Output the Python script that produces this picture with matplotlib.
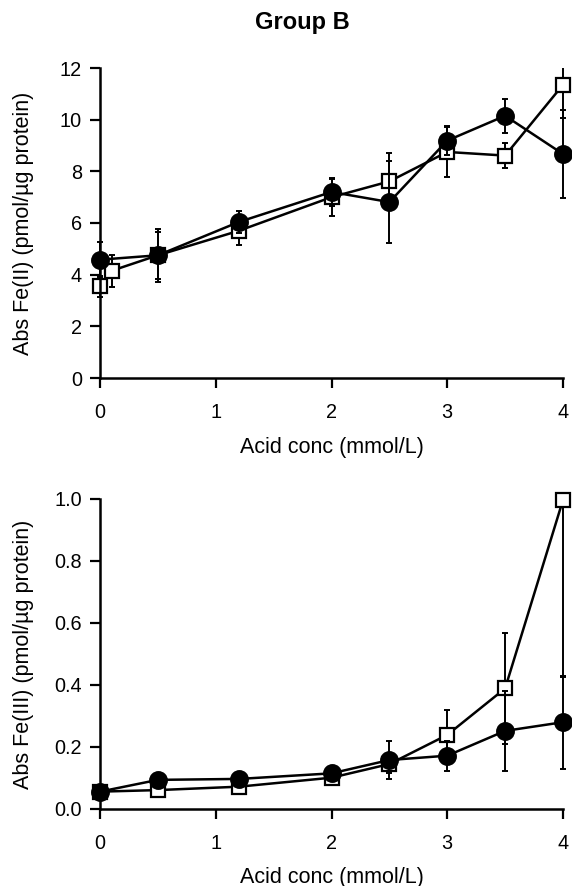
import matplotlib
matplotlib.use("Agg")
import matplotlib.pyplot as plt
from matplotlib.transforms import Bbox, TransformedBbox

plt.rcParams['font.family'] = ['Liberation Sans', 'DejaVu Sans']

# ---- Data: Fe(II) (top panel) ----
fe2_circ_x = [0, 0.5, 1.2, 2, 2.5, 3, 3.5, 4]
fe2_circ_y = [4.58, 4.75, 6.04, 7.20, 6.81, 9.19, 10.15, 8.67]
fe2_circ_err = [0.67, 1.03, 0.44, 0.55, 1.58, 0.55, 0.65, 1.70]

fe2_sq_x = [0, 0.1, 0.5, 1.2, 2, 2.5, 3, 3.5, 4]
fe2_sq_y = [3.55, 4.15, 4.75, 5.70, 7.00, 7.61, 8.75, 8.61, 11.35]
fe2_sq_err = [0.40, 0.62, 0.90, 0.54, 0.72, 1.11, 0.98, 0.48, 1.27]

# ---- Data: Fe(III) (bottom panel) ----
fe3_circ_x = [0, 0.5, 1.2, 2, 2.5, 3, 3.5, 4]
fe3_circ_y = [0.056, 0.094, 0.097, 0.115, 0.158, 0.172, 0.252, 0.280]
fe3_circ_err = [0.005, 0.006, 0.010, 0.008, 0.060, 0.048, 0.130, 0.150]

fe3_sq_x = [0, 0.5, 1.2, 2, 2.5, 3, 3.5, 4]
fe3_sq_y = [0.056, 0.061, 0.072, 0.101, 0.145, 0.239, 0.389, 0.997]
fe3_sq_err = [0.005, 0.005, 0.008, 0.008, 0.030, 0.080, 0.180, 0.570]

x_ticks = [0, 1, 2, 3, 4]
top_yticks = [0, 2, 4, 6, 8, 10, 12]
bot_yticks = [0.0, 0.2, 0.4, 0.6, 0.8, 1.0]
bot_yticklabels = ["0.0", "0.2", "0.4", "0.6", "0.8", "1.0"]

title = "Group B"
xlabel = "Acid conc (mmol/L)"
top_ylabel = "Abs Fe(II) (pmol/\u00b5g protein)"
bot_ylabel = "Abs Fe(III) (pmol/\u00b5g protein)"

W, H = 572, 886
FS = 14.3
LFS = 15.5
fig = plt.figure(figsize=(W / 100, H / 100), dpi=100)


def px_axes(left, top, right, bottom):
    return fig.add_axes([left / W, 1 - bottom / H, (right - left) / W, (bottom - top) / H])


ax1 = px_axes(100, 68, 563, 378)
ax2 = px_axes(100, 499, 563, 809)


def draw(ax, sx, sy, se, cx, cy, ce):
    clipbox = TransformedBbox(Bbox([[-0.05, 0.0], [1.05, 1.0]]), ax.transAxes)
    for x, y, e, marker, ms, mfc, z in [
        (sx, sy, se, 's', 10, 'white', 2),
        (cx, cy, ce, 'o', 12, 'black', 3),
    ]:
        cont = ax.errorbar(x, y, yerr=e, fmt='none', ecolor='black',
                           elinewidth=1.4, capsize=2.2, capthick=1.4, zorder=z)
        for art in list(cont.lines[1]) + list(cont.lines[2]):
            art.set_clip_box(clipbox)
        ax.plot(x, y, color='black', lw=1.8, marker=marker, ms=ms,
                mfc=mfc, mec='black', mew=1.6, zorder=z + 0.5, clip_on=False)


draw(ax1, fe2_sq_x, fe2_sq_y, fe2_sq_err, fe2_circ_x, fe2_circ_y, fe2_circ_err)
draw(ax2, fe3_sq_x, fe3_sq_y, fe3_sq_err, fe3_circ_x, fe3_circ_y, fe3_circ_err)

for ax in (ax1, ax2):
    ax.set_xlim(0, 4)
    ax.set_xticks(x_ticks)
    ax.set_xticklabels([str(t) for t in x_ticks])
    for s in ('top', 'right'):
        ax.spines[s].set_visible(False)
    for s in ('left', 'bottom'):
        ax.spines[s].set_linewidth(1.8)
    ax.tick_params(axis='both', direction='out', length=7, width=1.6,
                   labelsize=FS, colors='black')
    ax.tick_params(axis='x', pad=11)
    ax.tick_params(axis='y', pad=6)

ax1.set_ylim(0, 12)
ax1.set_yticks(top_yticks)
ax1.set_yticklabels([str(t) for t in top_yticks])
ax2.set_ylim(0, 1.0)
ax2.set_yticks(bot_yticks)
ax2.set_yticklabels(bot_yticklabels)

fig.text(302 / W, 1 - 22 / H, title, ha='center', va='center',
         fontsize=17, fontweight='bold')
fig.text(332 / W, 1 - 447 / H, xlabel, ha='center', va='center', fontsize=LFS)
fig.text(332 / W, 1 - 877 / H, xlabel, ha='center', va='center', fontsize=LFS)
fig.text(24 / W, 1 - 223 / H, top_ylabel, ha='center', va='center',
         rotation=90, fontsize=LFS)
fig.text(24 / W, 1 - 654 / H, bot_ylabel, ha='center', va='center',
         rotation=90, fontsize=LFS)

fig.savefig("out.png", dpi=100, facecolor='white')
